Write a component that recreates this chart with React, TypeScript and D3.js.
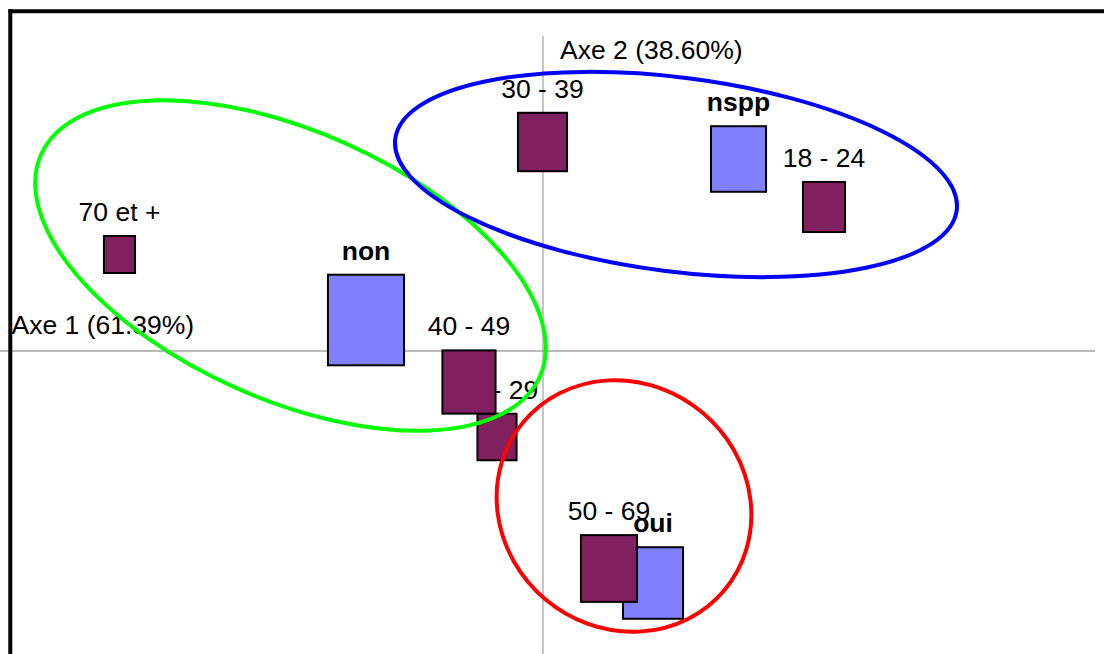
import React from "react";
import * as d3 from "d3";

// Modalités "âge"
const ageLabels = ["18 - 24", "25 - 29", "30 - 39", "40 - 49", "50 - 69", "70 et +"];
const ageAxe1 = [0.562, -0.092, -0.001, -0.148, 0.132, -0.847];
const ageAxe2 = [0.288, -0.172, 0.418, -0.062, -0.435, 0.193];
const ageMasse = [14.1, 12.2, 19.2, 22.5, 25.1, 7.7];

// Modalités "réponse"
const reponseLabels = ["oui", "non", "nspp"];
const reponseAxe1 = [0.22, -0.354, 0.391];
const reponseAxe2 = [-0.464, 0.062, 0.384];
const reponseMasse = [28.8, 46.2, 24.2];

// Groupes (ellipses) en coordonnées factorielles
const groupeNoms = ["vert", "bleu", "rouge"];
const groupeCx = [-0.505, 0.266, 0.162];
const groupeCy = [0.171, 0.353, -0.31];
const groupeRx = [0.546, 0.566, 0.262];
const groupeRy = [0.268, 0.194, 0.244];
const groupeAngle = [24, 7.25, 40];

const axe1Label = "Axe 1 (61.39%)";
const axe2Label = "Axe 2 (38.60%)";

const W = 1104;
const H = 654;
const FONT = "'Liberation Sans', Arial, sans-serif";
const FS = 26.5;

export default function App() {
  const x = d3.scaleLinear().domain([-1, 1]).range([43, 1043]);
  const y = d3.scaleLinear().domain([-1, 1]).range([851, -149]);
  const size = d3.scaleSqrt().domain([0, 100]).range([0, 112]);
  const unit = x(1) - x(0);
  const ratio = 1.19;

  const ages = ageLabels.map((l, i) => ({ label: l, ax: ageAxe1[i], ay: ageAxe2[i], m: ageMasse[i] }));
  const reps = reponseLabels.map((l, i) => ({ label: l, ax: reponseAxe1[i], ay: reponseAxe2[i], m: reponseMasse[i] }));
  const colors = ["#00ff00", "#0000ff", "#ff0000"];

  const rectOf = (d: any) => {
    const w = size(d.m);
    const h = w * ratio;
    return { x: x(d.ax) - w / 2, y: y(d.ay) - h / 2, w, h, cx: x(d.ax) };
  };

  return (
    <svg width={W} height={H} style={{ position: "fixed", left: 0, top: 0, background: "#fff" }} fontFamily={FONT}>
      <rect x={0} y={0} width={W} height={H} fill="#fff" />
      {/* axes */}
      <line x1={x(0)} x2={x(0)} y1={36} y2={H} stroke="#b8b8b8" strokeWidth={1.6} />
      <line x1={0} x2={1095} y1={y(0)} y2={y(0)} stroke="#777" strokeWidth={1.2} />
      <text x={x(0) + 17} y={59} fontSize={FS}>{axe2Label}</text>
      <text x={11.5} y={334} fontSize={FS}>{axe1Label}</text>

      {/* réponses : rectangles */}
      {reps.map((d) => {
        const r = rectOf(d);
        return <rect key={"r" + d.label} x={r.x} y={r.y} width={r.w} height={r.h} fill="#8080ff" stroke="#000" strokeWidth={2} />;
      })}
      {/* âges : étiquette + rectangle */}
      {ages.map((d) => {
        const r = rectOf(d);
        return (
          <g key={"a" + d.label}>
            <text x={r.cx} y={r.y - 15} fontSize={FS} textAnchor="middle">{d.label}</text>
            <rect x={r.x} y={r.y} width={r.w} height={r.h} fill="#80205e" stroke="#000" strokeWidth={2} />
          </g>
        );
      })}
      {/* réponses : étiquettes */}
      {reps.map((d) => {
        const r = rectOf(d);
        return <text key={"t" + d.label} x={r.cx} y={r.y - 15} fontSize={FS} fontWeight="bold" textAnchor="middle">{d.label}</text>;
      })}

      {/* ellipses */}
      {groupeNoms.map((g, i) => (
        <ellipse
          key={g}
          cx={0}
          cy={0}
          rx={groupeRx[i] * unit}
          ry={groupeRy[i] * unit}
          transform={`translate(${x(groupeCx[i])},${y(groupeCy[i])}) rotate(${groupeAngle[i]})`}
          fill="none"
          stroke={colors[i]}
          strokeWidth={4}
        />
      ))}

      {/* cadre */}
      <line x1={8.5} x2={W} y1={11.3} y2={11.3} stroke="#000" strokeWidth={4} />
      <line x1={10.3} x2={10.3} y1={9.3} y2={H} stroke="#000" strokeWidth={4} />
    </svg>
  );
}
